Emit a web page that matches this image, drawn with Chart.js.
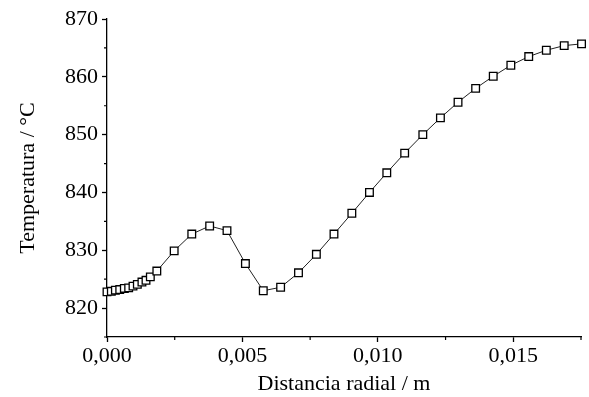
<!DOCTYPE html>
<html>
<head>
<meta charset="utf-8">
<script src="https://cdn.jsdelivr.net/npm/chart.js@4"></script>
<style>
  html, body { margin: 0; padding: 0; background: #fff; }
  canvas { display: block; }
</style>
</head>
<body>
<canvas id="graphic" width="589" height="397"></canvas>
<script>
// Data
const radius = [0, 0.00016, 0.00031, 0.00047, 0.00064, 0.0008, 0.00096, 0.00112, 0.00129, 0.00144, 0.0016, 0.00184,
  0.00248, 0.00313, 0.00379, 0.00443, 0.00511, 0.00577, 0.00641, 0.00707, 0.00773, 0.00838, 0.00904, 0.00969,
  0.01033, 0.01099, 0.01166, 0.01231, 0.01296, 0.01361, 0.01426, 0.01491, 0.01557, 0.01622, 0.01688, 0.01752];
const temperature = [822.8, 822.9, 823.1, 823.2, 823.4, 823.5, 823.8, 824.1, 824.5, 824.8, 825.4, 826.4,
  829.9, 832.8, 834.2, 833.4, 827.7, 823.0, 823.6, 826.1, 829.3, 832.8, 836.4, 840.0,
  843.4, 846.8, 850.0, 852.9, 855.6, 858.0, 860.1, 862.0, 863.5, 864.6, 865.4, 865.7];

const xTicks = [0, 0.005, 0.010, 0.015];
const xMinorTicks = [0.0025, 0.0075, 0.0125, 0.0175];
const yTicks = [820, 830, 840, 850, 860, 870];
const yMinorTicks = [815, 825, 835, 845, 855, 865];

const font = { family: '"Liberation Serif", "Times New Roman", serif', size: 22 };

// Minor ticks
const minorTicks = {
  id: 'minorTicks',
  afterDraw(chart) {
    const ctx = chart.ctx;
    const area = chart.chartArea;
    const x = chart.scales.x;
    const y = chart.scales.y;
    ctx.save();
    ctx.strokeStyle = '#000';
    ctx.lineWidth = 1.2;
    ctx.beginPath();
    xMinorTicks.forEach((v) => {
      const px = x.getPixelForValue(v);
      ctx.moveTo(px, area.bottom);
      ctx.lineTo(px, area.bottom + 3);
    });
    yMinorTicks.forEach((v) => {
      const py = y.getPixelForValue(v);
      ctx.moveTo(area.left, py);
      ctx.lineTo(area.left - 3, py);
    });
    ctx.stroke();
    ctx.restore();
  }
};

new Chart(document.querySelector('#graphic'), {
  type: 'line',
  data: {
    datasets: [{
      data: radius.map((r, i) => ({ x: r, y: temperature[i] })),
      borderColor: '#222',
      borderWidth: 1,
      pointStyle: 'rect',
      pointRadius: 5.4,
      pointBorderWidth: 1.3,
      pointBorderColor: '#000',
      pointBackgroundColor: '#fff',
      tension: 0,
      clip: false
    }]
  },
  options: {
    responsive: false,
    animation: false,
    layout: { padding: { left: 0, right: 8, top: 19, bottom: 0 } },
    plugins: { legend: { display: false }, tooltip: { enabled: false } },
    scales: {
      x: {
        type: 'linear',
        min: 0,
        max: 0.0175,
        afterBuildTicks: (scale) => { scale.ticks = xTicks.map((v) => ({ value: v })); },
        afterFit: (scale) => { scale.height = 60; },
        border: { color: '#000', width: 1.3 },
        grid: { drawOnChartArea: false, drawTicks: true, tickLength: 5, tickColor: '#000', tickWidth: 1.3 },
        ticks: {
          color: '#000',
          font: font,
          padding: 1,
          maxRotation: 0,
          callback: (v) => v.toFixed(3).replace('.', ',')
        },
        title: { display: true, text: 'Distancia radial / m', color: '#000', font: font, padding: { top: 0, bottom: 0 } }
      },
      y: {
        min: 815,
        max: 870,
        afterBuildTicks: (scale) => { scale.ticks = yTicks.map((v) => ({ value: v })); },
        afterFit: (scale) => { scale.width = 107; },
        border: { color: '#000', width: 1.3 },
        grid: { drawOnChartArea: false, drawTicks: true, tickLength: 5, tickColor: '#000', tickWidth: 1.3 },
        ticks: { color: '#000', font: font, padding: 4 },
        title: { display: true, text: 'Temperatura / °C', color: '#000', font: font, padding: { top: 15, bottom: 0 } }
      }
    }
  },
  plugins: [minorTicks]
});
</script>
</body>
</html>
